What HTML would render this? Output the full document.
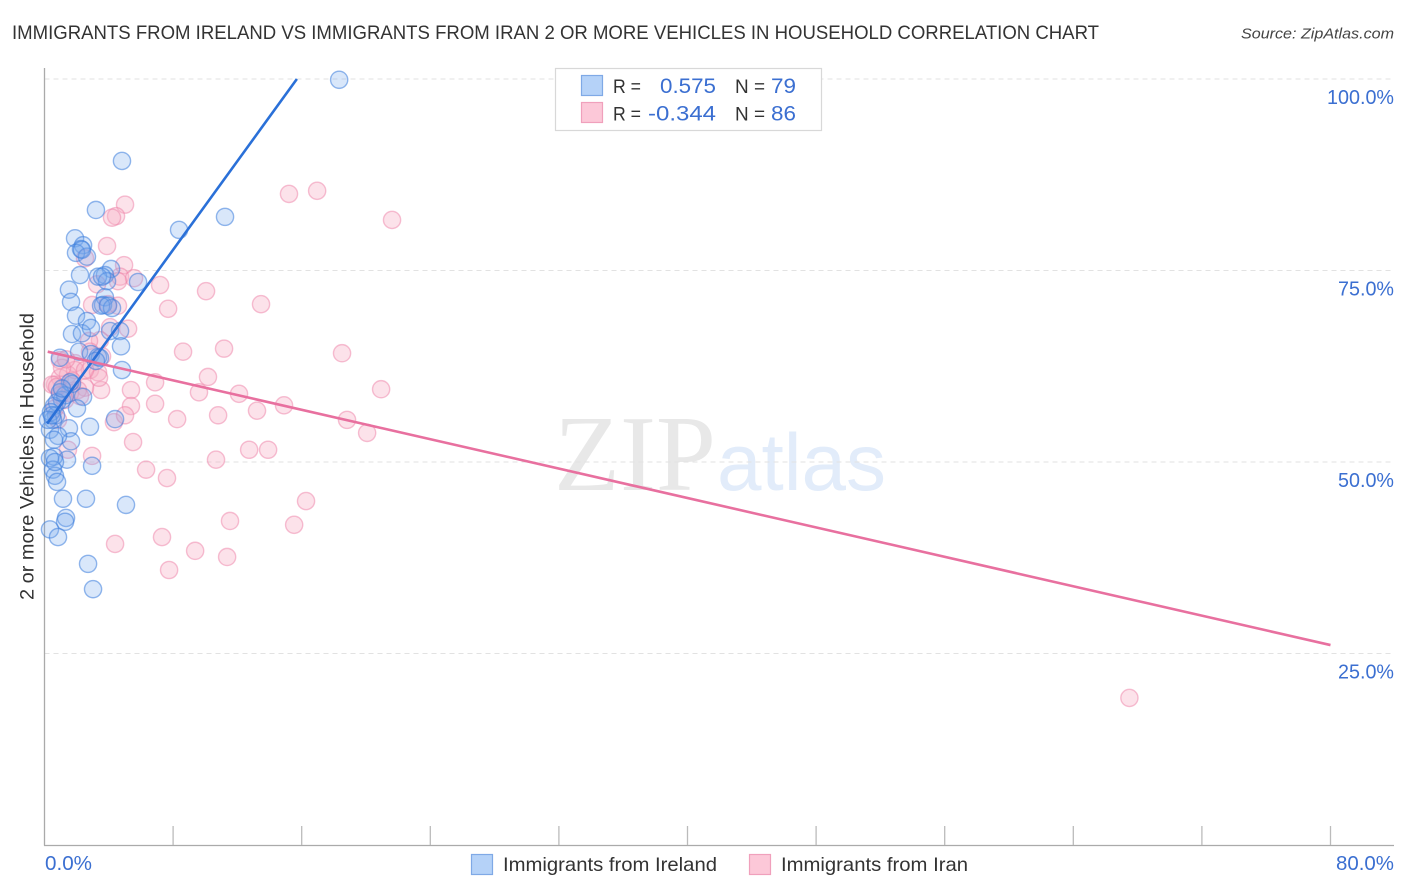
<!DOCTYPE html>
<html>
<head>
<meta charset="utf-8">
<title>Immigrants from Ireland vs Immigrants from Iran Correlation Chart</title>
<style>
html,body{margin:0;padding:0;background:#fff;}
svg{display:block;font-family:"Liberation Sans",sans-serif;}
</style>
</head>
<body>
<svg id="chart" width="1406" height="892" viewBox="0 0 1406 892" xmlns="http://www.w3.org/2000/svg">
  <text x="12" y="39" font-size="19.5" fill="#333" textLength="1087" lengthAdjust="spacingAndGlyphs">IMMIGRANTS FROM IRELAND VS IMMIGRANTS FROM IRAN 2 OR MORE VEHICLES IN HOUSEHOLD CORRELATION CHART</text>
  <text x="1241" y="38.5" font-size="15" font-style="italic" fill="#444" textLength="153" lengthAdjust="spacingAndGlyphs">Source: ZipAtlas.com</text>

  <g>
    <text x="554" y="490" font-family="'Liberation Serif',serif" font-size="108" fill="#e8e8e8" textLength="162" lengthAdjust="spacingAndGlyphs">ZIP</text>
    <text x="717" y="490" font-size="81" fill="#e2ecfa" textLength="169" lengthAdjust="spacingAndGlyphs">atlas</text>
  </g>

  <g id="grid"></g>
  <g id="axes"></g>
  <g id="iran-points"></g>
  <g id="ireland-points"></g>
  <g id="trends"></g>

  <text transform="translate(33.5,600) rotate(-90)" x="0" y="0" font-size="19" fill="#333" textLength="287" lengthAdjust="spacingAndGlyphs">2 or more Vehicles in Household</text>

  <g>
    <rect x="555.5" y="68.5" width="266" height="62" fill="#fff" stroke="#d8d8d8" stroke-width="1.2"/>
    <rect x="581.5" y="75.5" width="21" height="20" fill="#b5d2f8" stroke="#7fa9e6" stroke-width="1.2"/>
    <rect x="581.5" y="102.5" width="21" height="20" fill="#fcc8d8" stroke="#f0a0bc" stroke-width="1.2"/>
    <text x="613" y="93" font-size="19.5" fill="#333" textLength="28" lengthAdjust="spacingAndGlyphs">R =</text>
    <text x="716" y="93" font-size="21.5" fill="#3b6fd1" text-anchor="end" textLength="56" lengthAdjust="spacingAndGlyphs">0.575</text>
    <text x="735" y="93" font-size="19.5" fill="#333" textLength="30" lengthAdjust="spacingAndGlyphs">N =</text>
    <text x="771" y="93" font-size="21.5" fill="#3b6fd1" textLength="25" lengthAdjust="spacingAndGlyphs">79</text>
    <text x="613" y="120.5" font-size="19.5" fill="#333" textLength="28" lengthAdjust="spacingAndGlyphs">R =</text>
    <text x="716" y="120.5" font-size="21.5" fill="#3b6fd1" text-anchor="end" textLength="68" lengthAdjust="spacingAndGlyphs">-0.344</text>
    <text x="735" y="120.5" font-size="19.5" fill="#333" textLength="30" lengthAdjust="spacingAndGlyphs">N =</text>
    <text x="771" y="120.5" font-size="21.5" fill="#3b6fd1" textLength="25" lengthAdjust="spacingAndGlyphs">86</text>
  </g>

  <g>
    <rect x="471.5" y="854.5" width="21" height="20" fill="#b5d2f8" stroke="#7fa9e6" stroke-width="1.2"/>
    <text x="503" y="871" font-size="19.5" fill="#333" textLength="214" lengthAdjust="spacingAndGlyphs">Immigrants from Ireland</text>
    <rect x="749.5" y="854.5" width="21" height="20" fill="#fcc8d8" stroke="#f0a0bc" stroke-width="1.2"/>
    <text x="781" y="871" font-size="19.5" fill="#333" textLength="187" lengthAdjust="spacingAndGlyphs">Immigrants from Iran</text>
  </g>
</svg>

<script>
const yTickValues = [100, 75, 50, 25];
const yTickLabels = ["100.0%", "75.0%", "50.0%", "25.0%"];
const xTickValues = [0, 8, 16, 24, 32, 40, 48, 56, 64, 72, 80];
const xEndLabels = ["0.0%", "80.0%"];

const irelandX = [18.33,4.82,3.20,11.23,8.37,1.90,2.40,2.27,1.96,2.64,2.21,4.14,3.76,3.33,3.89,5.82,1.52,3.76,1.65,3.64,3.52,4.20,1.96,2.64,1.71,2.33,2.89,4.08,4.70,4.76,2.15,2.89,3.33,4.82,0.96,1.71,2.40,1.09,1.59,1.28,2.02,0.59,1.52,2.83,4.39,0.72,0.53,0.34,1.65,0.84,1.40,0.59,0.34,2.96,0.53,0.65,0.78,1.15,2.58,5.07,1.34,1.28,0.34,0.84,2.71,3.02,0.78,0.40,0.22,0.96,2.33,3.58,3.95,3.45,0.59,0.47,0.65,3.20,1.09];
const irelandY = [99.9,89.3,82.9,82.0,80.3,79.2,78.3,77.8,77.3,76.8,74.4,75.2,74.4,74.2,73.6,73.5,72.5,71.5,70.9,70.5,70.4,70.1,69.1,68.4,66.7,66.8,67.5,67.1,67.1,65.1,64.4,64.1,63.7,62.0,63.6,60.2,58.5,58.1,60.4,58.7,57.0,57.3,54.4,54.6,55.6,56.1,55.5,54.2,52.7,53.4,50.3,50.7,50.5,49.5,49.0,48.2,47.4,45.2,45.2,44.4,42.7,42.2,41.2,40.2,36.7,33.4,57.8,56.5,55.5,59.1,77.7,74.2,70.4,63.6,52.9,56.1,50.0,63.2,59.6];

const iranX = [67.49,15.21,16.96,21.62,5.01,4.45,4.20,3.89,2.52,4.95,4.70,5.57,4.57,7.19,10.05,13.47,7.69,4.57,2.96,3.95,3.27,4.08,5.20,3.45,2.77,8.62,11.17,18.51,3.58,2.83,0.96,1.90,2.83,3.33,10.17,6.88,12.10,20.94,9.61,5.38,3.52,3.39,2.52,2.08,0.96,0.65,0.47,6.88,5.38,14.90,13.22,10.80,8.25,18.82,4.32,5.01,20.07,5.51,12.73,13.91,10.67,6.32,7.62,2.96,1.46,16.27,11.54,15.53,7.31,4.39,9.37,11.36,7.75,0.96,1.46,1.90,1.09,1.59,1.28,0.65,0.84,2.52,1.71,2.21,0.78,1.34];
const iranY = [19.2,85.0,85.4,81.6,83.6,82.1,81.9,78.2,76.6,75.7,74.2,74.0,73.6,73.1,72.3,70.6,70.0,70.4,70.5,70.6,73.2,67.6,67.4,65.9,65.8,64.4,64.8,64.2,63.8,64.4,63.3,62.9,62.0,61.7,61.1,60.4,58.9,59.5,59.1,59.4,59.4,61.0,59.7,59.4,61.0,60.1,60.1,57.6,57.3,57.4,56.7,56.1,55.6,55.5,55.2,56.1,53.8,52.6,51.6,51.6,50.3,49.0,47.9,50.8,51.6,44.9,42.3,41.8,40.2,39.3,38.4,37.6,35.9,58.7,61.4,62.0,62.3,59.0,58.1,57.0,55.5,62.0,60.6,58.6,59.8,63.4];

const irelandTrendX = [0.16, 15.7];
const irelandTrendY = [55.0, 100.0];
const iranTrendX = [0.2, 80];
const iranTrendY = [64.4, 26.1];

const NS = "http://www.w3.org/2000/svg";
function xScale(v) { return 44.5 + v * 16.075; }
function yScale(v) { return 845 - v * 7.66; }
function make(tag, attrs, parent) {
  const el = document.createElementNS(NS, tag);
  for (const k in attrs) el.setAttribute(k, attrs[k]);
  parent.appendChild(el);
  return el;
}

const grid = document.getElementById("grid");
yTickValues.forEach(function (v, i) {
  const line = make("line", {x1: 44.5, x2: 1394, y1: yScale(v), y2: yScale(v), stroke: "#e2e2e2", "stroke-width": 1, "stroke-dasharray": "5 4"}, grid);
  
  
  const label = make("text", {x: 1394, y: yScale(v) + 25, "font-size": 20, fill: "#3b6fd1", "text-anchor": "end", textLength: yTickLabels[i].length > 5 ? 67 : 56, lengthAdjust: "spacingAndGlyphs"}, grid);
  
  
  label.textContent = yTickLabels[i];
});

const axes = document.getElementById("axes");
const yAxis = make("line", {x1: 44.5, x2: 44.5, y1: 68, y2: 845.5, stroke: "#aaa", "stroke-width": 1.3}, axes);


const xAxis = make("line", {x1: 44, x2: 1394, y1: 845.5, y2: 845.5, stroke: "#aaa", "stroke-width": 1.3}, axes);


xTickValues.slice(1).forEach(function (v) {
  const tick = make("line", {x1: xScale(v), x2: xScale(v), y1: 826, y2: 845, stroke: "#bbb", "stroke-width": 1.3}, axes);
  
  
});
const xLabelLeft = make("text", {x: 45, y: 870, "font-size": 20, fill: "#3b6fd1", textLength: 47, lengthAdjust: "spacingAndGlyphs"}, axes);


xLabelLeft.textContent = xEndLabels[0];
const xLabelRight = make("text", {x: 1394, y: 870, "font-size": 20, fill: "#3b6fd1", "text-anchor": "end", textLength: 58, lengthAdjust: "spacingAndGlyphs"}, axes);


xLabelRight.textContent = xEndLabels[1];

const iranGroup = document.getElementById("iran-points");
iranX.forEach(function (v, i) {
  const c = make("circle", {cx: xScale(v), cy: yScale(iranY[i]), r: 8.6, fill: "rgba(248,175,198,0.36)", stroke: "rgba(238,130,168,0.5)", "stroke-width": 1.4}, iranGroup);
  
  
});

const irelandGroup = document.getElementById("ireland-points");
irelandX.forEach(function (v, i) {
  const c = make("circle", {cx: xScale(v), cy: yScale(irelandY[i]), r: 8.6, fill: "rgba(120,170,238,0.28)", stroke: "rgba(60,125,220,0.55)", "stroke-width": 1.4}, irelandGroup);
  
  
});

const trends = document.getElementById("trends");
const blueLine = make("line", {x1: xScale(irelandTrendX[0]), y1: yScale(irelandTrendY[0]), x2: xScale(irelandTrendX[1]), y2: yScale(irelandTrendY[1]), stroke: "#2a70d8", "stroke-width": 2.6}, trends);


const pinkLine = make("line", {x1: xScale(iranTrendX[0]), y1: yScale(iranTrendY[0]), x2: xScale(iranTrendX[1]), y2: yScale(iranTrendY[1]), stroke: "#e8709f", "stroke-width": 2.6}, trends);


</script>
</body>
</html>
